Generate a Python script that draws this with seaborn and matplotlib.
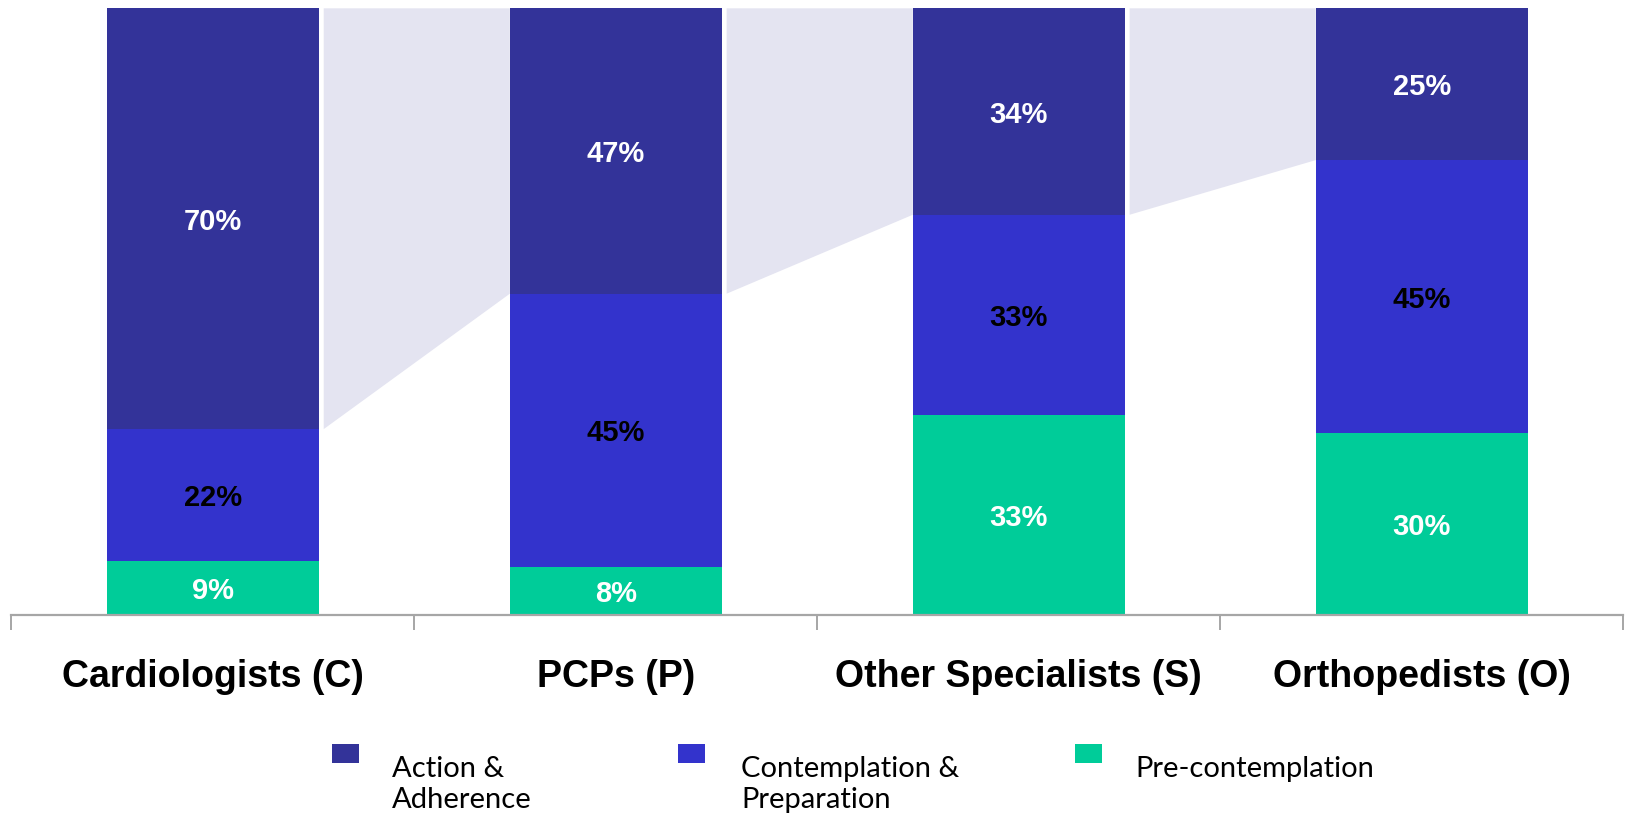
import matplotlib
matplotlib.use("Agg")
import matplotlib.pyplot as plt
import seaborn as sns
import pandas as pd
from matplotlib.patches import Rectangle

# Dados do gráfico
categorias = ["Cardiologists (C)", "PCPs (P)", "Other Specialists (S)", "Orthopedists (O)"]
acao = [70, 47, 34, 25]                 # Action & Adherence
contemplacao = [22, 45, 33, 45]         # Contemplation & Preparation
pre_contemplacao = [9, 8, 33, 30]       # Pre-contemplation
legenda = ["Action &\nAdherence", "Contemplation &\nPreparation", "Pre-contemplation"]

cores = ["#333399", "#3333CC", "#00CC99"]
cor_conector = "#E4E4F1"
largura = 0.526

########################################################
# Montando o dataframe e normalizando para 100%
df = pd.DataFrame({"categoria": categorias, "acao": acao,
                   "contemplacao": contemplacao, "pre": pre_contemplacao})
total = df[["acao", "contemplacao", "pre"]].sum(axis=1)
df["pre_n"] = df["pre"] / total * 100
df["cont_n"] = df["contemplacao"] / total * 100
df["acao_n"] = df["acao"] / total * 100
df["topo_pre"] = df["pre_n"]
df["topo_cont"] = df["pre_n"] + df["cont_n"]
df["topo_acao"] = df["topo_cont"] + df["acao_n"]

sns.set_style("white")

fig = plt.figure(figsize=(16.33, 8.15), dpi=100)
ax = fig.add_axes([0.007, 0.2448, 0.987, 0.745])

# Barras empilhadas: desenhando do total para a base
for coluna, cor in zip(["topo_acao", "topo_cont", "topo_pre"], cores):
    sns.barplot(data=df, x="categoria", y=coluna, color=cor, saturation=1,
                width=largura, ax=ax, zorder=2, edgecolor="none", linewidth=0)

########################################################
# Conectores entre as barras (variação do segmento Action & Adherence)
for i in range(len(categorias) - 1):
    x0 = i + largura / 2 + 0.012
    x1 = i + 1 - largura / 2
    y0 = df["topo_cont"].iloc[i]
    y1 = df["topo_cont"].iloc[i + 1]
    ax.fill([x0, x1, x1, x0], [100, 100, y1, y0], color=cor_conector, lw=0, zorder=1)

########################################################
# Rótulos dentro dos segmentos
for i in range(len(categorias)):
    ax.text(i, df["pre_n"].iloc[i] / 2, f"{pre_contemplacao[i]}%", ha="center",
            va="center_baseline", color="white", fontsize=21, fontweight="bold",
            family="Liberation Sans", zorder=3)
    ax.text(i, df["topo_pre"].iloc[i] + df["cont_n"].iloc[i] / 2, f"{contemplacao[i]}%",
            ha="center", va="center_baseline", color="black", fontsize=21,
            fontweight="bold", family="Liberation Sans", zorder=3)
    ax.text(i, df["topo_cont"].iloc[i] + df["acao_n"].iloc[i] / 2, f"{acao[i]}%",
            ha="center", va="center_baseline", color="white", fontsize=21,
            fontweight="bold", family="Liberation Sans", zorder=3)

########################################################
# Eixos
ax.set_xlim(-0.5, 3.5)
ax.set_ylim(0, 100)
ax.set_xlabel("")
ax.set_ylabel("")
ax.set_yticks([])
ax.set_xticks([-0.5, 0.5, 1.5, 2.5, 3.5])
ax.set_xticklabels([])
ax.tick_params(axis="x", length=11, width=1.4, color="#A6A6A6", direction="out", bottom=True)
for lado in ["left", "top", "right"]:
    ax.spines[lado].set_visible(False)
ax.spines["bottom"].set_color("#A6A6A6")
ax.spines["bottom"].set_linewidth(1.6)
ax.set_facecolor("none")

# Nomes das categorias abaixo do eixo
for i, nome in enumerate(categorias):
    ax.text(i, -0.1178, nome, transform=ax.get_xaxis_transform(), ha="center",
            va="baseline", fontsize=27, fontweight="bold", family="Liberation Sans",
            color="black")

########################################################
# Legenda manual (cada linha do rótulo posicionada na sua linha de base)
x_marcadores = [332, 678, 1075]
x_textos = [392, 741, 1135]
bases = [777, 808]
for cor, xm, xt, rotulo in zip(cores, x_marcadores, x_textos, legenda):
    fig.patches.append(Rectangle((xm / 1633, 1 - 763 / 815), 27 / 1633, 19 / 815,
                                 transform=fig.transFigure, color=cor, lw=0))
    for linha, base in zip(rotulo.split("\n"), bases):
        fig.text(xt / 1633, 1 - base / 815, linha, ha="left", va="baseline",
                 fontsize=21, family="Lato", color="black")

fig.savefig("out.png", dpi=100)
